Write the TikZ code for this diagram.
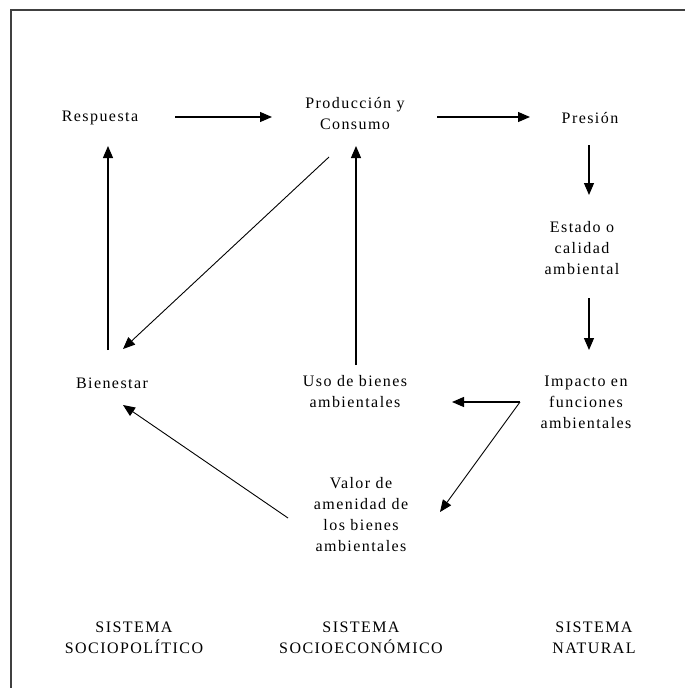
\documentclass[tikz,border=0pt]{standalone}
\usepackage{fontspec}
\setmainfont{Liberation Serif}[LetterSpace=9]
\usetikzlibrary{arrows.meta}
\begin{document}
\begin{tikzpicture}[x=1pt,y=-1pt,
  lbl/.style={font=\fontsize{16}{21}\selectfont, align=center, inner sep=0pt},
  arr/.style={-{Triangle[length=12pt,width=10pt]}, line width=1.2pt},
  darr/.style={-{Triangle[length=12pt,width=10pt]}, line width=0.9pt},
  frame/.style={line width=1.8pt, black!75}]
\useasboundingbox (0,0) rectangle (685,688);
\draw[frame] (11,688) -- (11,10) -- (685,10);
% nodes
\node[lbl] (resp) at (100,118) {Respuesta};
\node[lbl] (prod) at (355,114) {Producción y\\Consumo};
\node[lbl] (pres) at (590,118) {Presión};
\node[lbl] (est) at (582,248) {Estado o\\calidad\\ambiental};
\node[lbl] (imp) at (586,402) {Impacto en\\funciones\\ambientales};
\node[lbl] (uso) at (355,392) {Uso de bienes\\ambientales};
\node[lbl] (bien) at (112,383) {Bienestar};
\node[lbl] (val) at (361,515) {Valor de\\amenidad de\\los bienes\\ambientales};
\node[lbl] (s1) at (134,638) {SISTEMA\\SOCIOPOLÍTICO};
\node[lbl] (s2) at (361,638) {SISTEMA\\SOCIOECONÓMICO};
\node[lbl] (s3) at (594,638) {SISTEMA\\NATURAL};
% connector end points
\coordinate (respE) at (175,117);
\coordinate (prodW) at (272,117);
\coordinate (prodE) at (437,117);
\coordinate (presW) at (530,117);
\coordinate (presS) at (589,145);
\coordinate (estN) at (589,195);
\coordinate (estS) at (589,298);
\coordinate (impN) at (589,350);
\coordinate (impW) at (520,402);
\coordinate (usoE) at (452,402);
\coordinate (valE) at (440,512);
\coordinate (usoN) at (356,365);
\coordinate (prodS) at (356,146);
\coordinate (bienN) at (108,350);
\coordinate (respS) at (108,146);
\coordinate (prodSW) at (329,157);
\coordinate (bienNE) at (123,349);
\coordinate (valW) at (288,518);
\coordinate (bienSE) at (123,405);
% connectors
\draw[arr] (respE) -- (prodW);
\draw[arr] (prodE) -- (presW);
\draw[arr] (presS) -- (estN);
\draw[arr] (estS) -- (impN);
\draw[arr] (impW) -- (usoE);
\draw[darr] (impW) -- (valE);
\draw[arr] (usoN) -- (prodS);
\draw[arr] (bienN) -- (respS);
\draw[darr] (prodSW) -- (bienNE);
\draw[darr] (valW) -- (bienSE);
\end{tikzpicture}
\end{document}
